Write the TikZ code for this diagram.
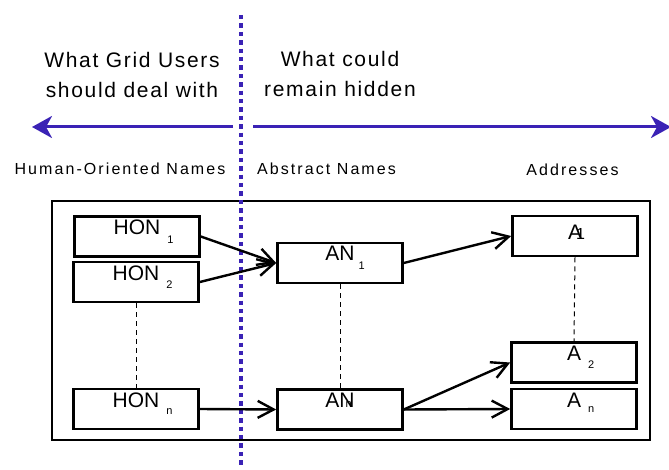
\documentclass[tikz,border=0pt]{standalone}
\usepackage{fontspec}
\setmainfont{Liberation Sans}
\newfontfamily\headFont[LetterSpace=8]{Liberation Sans}
\newfontfamily\colFont[LetterSpace=13]{Liberation Sans}
\usetikzlibrary{arrows.meta}
\definecolor{gridBlue}{HTML}{3A22B5}
\newcommand{\nameSub}[4]{#1\rlap{\hspace{#3}\raisebox{#4}{\fontsize{5.5}{6}\selectfont #2}}}
\tikzset{
  nameBox/.style={draw, line width=1.3pt, inner sep=0pt, minimum width=62.5pt, minimum height=20pt,
    text height=9pt, text depth=11pt, font=\fontsize{10.5}{12}\selectfont},
  headText/.style={font=\headFont\fontsize{10.5}{15}\selectfont, align=center, inner sep=0pt},
  colText/.style={font=\colFont\fontsize{8}{9}\selectfont, inner sep=0pt},
  mapArrow/.style={line width=1.2pt, -{Straight Barb[length=8pt,width=8.5pt]}},
  linkDash/.style={line width=0.5pt, dash pattern=on 2.5pt off 2pt},
  scopeArrow/.style={draw=gridBlue, line width=1.5pt, -{Stealth[length=10pt,width=11pt,inset=3pt]}},
  divideLine/.style={draw=gridBlue, line width=2pt, dash pattern=on 2.2pt off 2pt}
}
\begin{document}
\begin{tikzpicture}[x=0.5pt, y=-0.5pt]
  \useasboundingbox (0,0) rectangle (669,470);

  \node[headText, anchor=north] (users) at (132,52) {What Grid Users\\should deal with};
  \node[headText, anchor=north] (hidden) at (340,51) {What could\\remain hidden};

  \coordinate (leftEnd) at (233,127);
  \coordinate (leftTip) at (32,127);
  \coordinate (rightEnd) at (253,127);
  \coordinate (rightTip) at (671,127);
  \draw[scopeArrow] (leftEnd) -- (leftTip);
  \draw[scopeArrow] (rightEnd) -- (rightTip);

  \node[colText, anchor=base] (honTitle) at (120,175) {Human-Oriented Names};
  \node[colText, anchor=base] (anTitle) at (326.5,175) {Abstract Names};
  \node[colText, anchor=base] (aTitle) at (572.5,176) {Addresses};

  \draw[line width=1.1pt] (52,201) rectangle (650,440);

  \node[nameBox] (hon1) at (137,236.5) {\nameSub{HON}{1}{3.5pt}{-4.5pt}};
  \node[nameBox] (hon2) at (136,282) {\nameSub{HON}{2}{3.5pt}{-4.5pt}};
  \node[nameBox] (honN) at (136,409) {\nameSub{HON}{n}{3.5pt}{-3.5pt}};

  \node[nameBox] (an1) at (340,263) {\nameSub{AN}{1}{2pt}{-4.5pt}};
  \node[nameBox] (anN) at (340,409.5) {\nameSub{AN}{n}{-4.5pt}{0pt}};

  \node[nameBox, text height=12pt, text depth=8pt] (a1) at (575,236) {A\rlap{\hspace{-3pt}\fontsize{8}{9}\selectfont 1}};
  \node[nameBox] (a2) at (574,362.5) {\nameSub{A}{2}{3.5pt}{-4pt}};
  \node[nameBox] (aN) at (574,409) {\nameSub{A}{n}{3.5pt}{-2.5pt}};

  \draw[linkDash] (hon2.south) -- (honN.north);
  \draw[linkDash] (an1.south) -- (anN.north);
  \draw[linkDash] (a1.south) -- (a2.north);

  \coordinate (divTop) at (241,15);
  \coordinate (divBot) at (241,468);
  \draw[divideLine] (divTop) -- (divBot);

  \draw[mapArrow] (hon1.east) -- (an1.west);
  \draw[mapArrow] (hon2.east) -- (an1.west);
  \draw[mapArrow] (honN.east) -- (anN.west);
  \draw[mapArrow] (an1.east) -- (a1.west);
  \draw[mapArrow] (anN.east) -- (a2.west);
  \draw[mapArrow] (anN.east) -- (aN.west);
\end{tikzpicture}
\end{document}
